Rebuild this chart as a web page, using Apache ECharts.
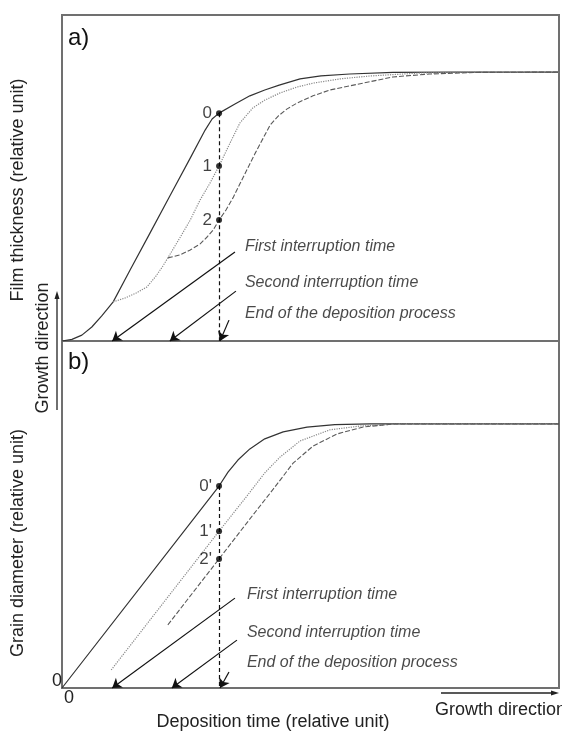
<!DOCTYPE html>
<html>
<head>
<meta charset="utf-8">
<script src="https://cdn.jsdelivr.net/npm/echarts@6/dist/echarts.min.js"></script>
<style>
html,body{margin:0;padding:0;background:#fff;}
#chart{width:562px;height:731px;}
</style>
</head>
<body>
<div id="chart"></div>
<script>
// ---------- DATA (relative units: x 0..100, y 0..100) ----------
// Panel a) film thickness
const filmSolid = [[0,0],[2.0,0.5],[4.0,1.8],[6.0,4.3],[8.0,7.7],[10.3,12.0],[13.7,21.8],[17.7,33.1],[21.7,44.5],[25.8,56.1],[28.8,64.7],[30.2,68.1],[31.6,69.9],[34.8,72.7],[37.8,75.2],[40.8,77.0],[43.7,78.5],[47.9,80.4],[52.1,81.3],[57.9,81.9],[66.6,82.4],[78.1,82.5],[100,82.5]];
const filmFirst = [[10.3,12.0],[12.7,13.2],[14.9,14.7],[17.1,16.6],[18.9,19.9],[20.3,23.0],[21.3,25.5],[23.7,31.6],[25.8,37.1],[27.8,43.3],[29.8,48.5],[31.6,53.7],[33.8,60.7],[35.8,66.9],[38.4,71.5],[40.8,73.9],[43.9,76.1],[47.3,77.9],[50.5,79.1],[55.9,80.4],[62.0,81.3],[72.0,82.2],[84.1,82.5],[100,82.5]];
const filmSecond = [[21.3,25.5],[23.7,26.4],[25.8,27.9],[27.8,29.8],[29.2,31.9],[30.4,34.0],[31.6,37.1],[33.0,40.2],[34.4,43.9],[35.8,48.2],[37.2,52.5],[38.8,57.4],[40.4,62.0],[41.9,66.3],[43.5,69.0],[45.3,71.2],[47.3,73.0],[50.5,75.2],[53.9,77.0],[60.6,79.1],[66.6,81.0],[74.0,81.9],[84.1,82.4],[100,82.5]];
const filmPoints = [[31.6,69.9,'0'],[31.6,53.7,'1'],[31.6,37.1,'2']];

// Panel b) grain diameter
const grainSolid = [[0,0],[31.6,58.2],[33.4,62.2],[35.4,65.7],[37.8,68.9],[40.8,71.8],[44.5,73.8],[49.3,75.2],[54.9,75.9],[62.0,76.1],[100,76.1]];
const grainFirst = [[9.9,5.2],[31.6,45.2],[37.2,55.3],[40.8,62.0],[43.9,66.6],[47.9,71.2],[53.9,74.4],[60.0,75.5],[68.0,76.1],[100,76.1]];
const grainSecond = [[21.3,18.2],[31.6,37.2],[37.2,47.6],[42.5,57.3],[46.5,64.8],[50.5,69.7],[55.3,73.2],[60.6,75.2],[66.8,76.1],[100,76.1]];
const grainPoints = [[31.6,58.2,"0'"],[31.6,45.2,"1'"],[31.6,37.2,"2'"]];

// End of deposition time
const endTime = 31.6;

// Annotations: text positions and arrows [start, end]
const noteTexts = ['First interruption time','Second interruption time','End of the deposition process'];
const notesA = [[36.8,29.1],[36.8,17.8],[36.8,8.3]];
const arrowsA = [[[34.8,27.3],[10.1,0]],[[35.0,15.3],[21.7,0]],[[33.6,6.4],[31.8,0]]];
const notesB = [[37.2,26.8],[37.2,15.9],[37.2,7.2]];
const arrowsB = [[[34.8,25.9],[10.1,0]],[[35.2,13.8],[22.1,0]],[[33.6,4.6],[31.8,0]]];

// ---------- CHART ----------
const FONT = "'Liberation Sans', Arial, Helvetica, sans-serif";
const chart = echarts.init(document.getElementById('chart'), null, {renderer:'canvas'});

function axisX(i){return {type:'value',gridIndex:i,min:0,max:100,axisLine:{show:false},axisTick:{show:false},axisLabel:{show:false},splitLine:{show:false}};}
function axisY(i){return {type:'value',gridIndex:i,min:0,max:100,axisLine:{show:false},axisTick:{show:false},axisLabel:{show:false},splitLine:{show:false}};}

function curve(data, i, style){
  return {type:'line',xAxisIndex:i,yAxisIndex:i,data:data,showSymbol:false,symbol:'none',smooth:false,silent:true,
    lineStyle:style,z:3};
}
function points(data,i){
  return {type:'scatter',xAxisIndex:i,yAxisIndex:i,symbolSize:6,silent:true,z:5,clip:false,
    itemStyle:{color:'#000'},
    data:data.map(d=>({value:[d[0],d[1]],name:d[2]})),
    label:{show:true,position:'left',distance:4,formatter:p=>p.name,color:'#111',fontSize:17,fontFamily:FONT}};
}
function notes(pos,arrows,i,topY){
  return {type:'scatter',xAxisIndex:i,yAxisIndex:i,symbolSize:0,silent:true,z:6,clip:false,
    data:pos.map((p,k)=>({value:p,name:noteTexts[k]})),
    label:{show:true,position:'right',distance:0,formatter:p=>p.name,color:'#1a1a1a',fontSize:16,fontStyle:'italic',fontFamily:FONT},
    markLine:{silent:true,animation:false,symbol:['none','arrow'],symbolSize:9,
      label:{show:false},lineStyle:{color:'#111',width:1.2,type:'solid'},
      data:arrows.map(a=>[{coord:a[0]},{coord:a[1]}]).concat([[{coord:[endTime,topY],lineStyle:{type:[4,3],color:'#111',width:1.2}},{coord:[endTime,0],symbol:'none'}]])
    }};
}

const solidStyle={color:'#333',width:1.2,type:'solid'};
const dotStyle={color:'#888',width:1.2,type:'dotted'};
const dashStyle={color:'#5a5a5a',width:1.1,type:[5,2]};

chart.setOption({
  animation:false,
  backgroundColor:'#fff',
  grid:[
    {left:62,top:15,width:497,height:326,show:true,borderColor:'#707070',borderWidth:2,containLabel:false},
    {left:62,top:341,width:497,height:347,show:true,borderColor:'#707070',borderWidth:2,containLabel:false}
  ],
  xAxis:[axisX(0),axisX(1)],
  yAxis:[axisY(0),axisY(1)],
  series:[
    curve(filmSolid,0,solidStyle),
    curve(filmFirst,0,dotStyle),
    curve(filmSecond,0,dashStyle),
    notes(notesA,arrowsA,0,filmPoints[0][1]),
    points(filmPoints,0),
    curve(grainSolid,1,solidStyle),
    curve(grainFirst,1,dotStyle),
    curve(grainSecond,1,dashStyle),
    notes(notesB,arrowsB,1,grainPoints[0][1]),
    points(grainPoints,1)
  ],
  graphic:[
    {type:'text',left:68,top:26,style:{text:'a)',font:'24px '+FONT,fill:'#111'}},
    {type:'text',left:68,top:350,style:{text:'b)',font:'24px '+FONT,fill:'#111'}},
    {type:'text',x:18,y:190,rotation:Math.PI/2,style:{text:'Film thickness (relative unit)',font:'18px '+FONT,fill:'#222',align:'center',verticalAlign:'middle'}},
    {type:'text',x:18,y:543,rotation:Math.PI/2,style:{text:'Grain diameter (relative unit)',font:'18px '+FONT,fill:'#222',align:'center',verticalAlign:'middle'}},
    {type:'text',x:43,y:348,rotation:Math.PI/2,style:{text:'Growth direction',font:'18px '+FONT,fill:'#222',align:'center',verticalAlign:'middle'}},
    {type:'line',shape:{x1:57,y1:410,x2:57,y2:298},style:{stroke:'#222',lineWidth:1.3}},
    {type:'polygon',shape:{points:[[57,291],[54.5,299],[59.5,299]]},style:{fill:'#222'}},
    {type:'text',x:273,y:722,style:{text:'Deposition time (relative unit)',font:'18px '+FONT,fill:'#222',align:'center',verticalAlign:'middle'}},
    {type:'text',x:435,y:710,style:{text:'Growth direction',font:'18px '+FONT,fill:'#222',align:'left',verticalAlign:'middle'}},
    {type:'line',shape:{x1:441,y1:693,x2:552,y2:693},style:{stroke:'#222',lineWidth:1.3}},
    {type:'polygon',shape:{points:[[559,693],[551,690.5],[551,695.5]]},style:{fill:'#222'}},
    {type:'text',x:57,y:681,style:{text:'0',font:'18px '+FONT,fill:'#222',align:'center',verticalAlign:'middle'}},
    {type:'text',x:69,y:698,style:{text:'0',font:'18px '+FONT,fill:'#222',align:'center',verticalAlign:'middle'}}
  ]
});
</script>
</body>
</html>
